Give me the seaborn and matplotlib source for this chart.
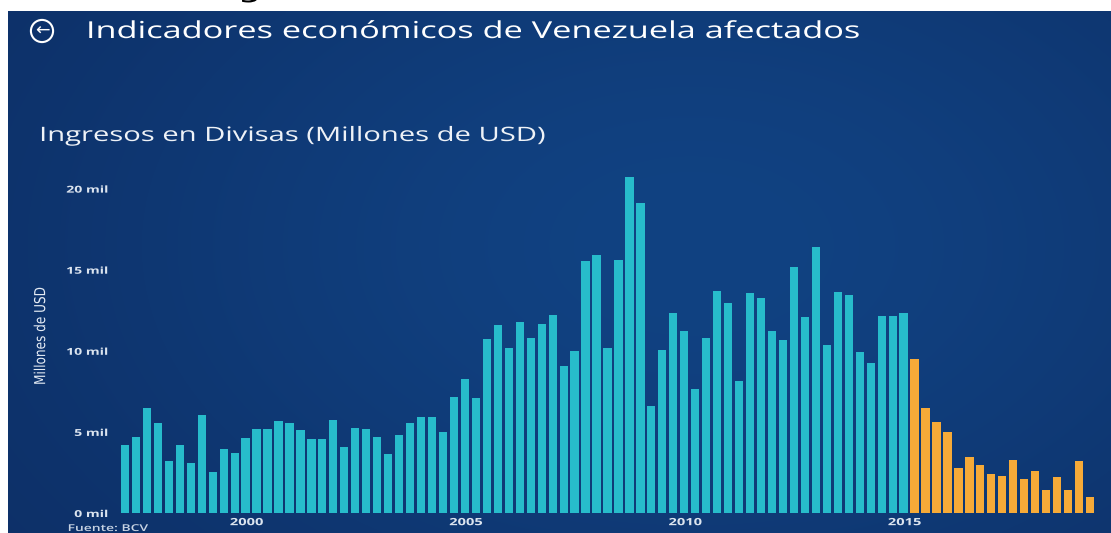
import numpy as np
import pandas as pd
import matplotlib
matplotlib.use("Agg")
import matplotlib.pyplot as plt
import seaborn as sns
from matplotlib.patheffects import AbstractPathEffect
from matplotlib.transforms import Affine2D

# Ingresos trimestrales en divisas (millones de USD), 1997T1 - 2019T1
ingresos_hasta_2014 = [
    4200, 4670, 6450, 5550, 3200, 4200, 3100, 6050, 2500, 3950,
    3700, 4600, 5200, 5200, 5700, 5550, 5100, 4550, 4550, 5750,
    4050, 5250, 5200, 4700, 3650, 4800, 5550, 5900, 5900, 4980,
    7170, 8280, 7090, 10720, 11600, 10200, 11800, 10800, 11680, 12230,
    9080, 10000, 15530, 15880, 10160, 15600, 20740, 19120, 6620, 10040,
    12320, 11230, 7660, 10800, 13670, 12970, 8110, 13550, 13280, 11250,
    10660, 15160, 12090, 16390, 10370, 13630, 13420, 9900, 9240, 12150,
    12150, 12320,
]
ingresos_desde_2015 = [
    9470, 6450, 5590, 5020, 2750, 3440, 2990, 2420, 2300, 3240,
    2110, 2560, 1430, 2210, 1430, 3180, 980,
]
primer_anio = 1997
anios_etiqueta = [2000, 2005, 2010, 2015]
marcas_y = [0, 5000, 10000, 15000, 20000]

valores = ingresos_hasta_2014 + ingresos_desde_2015
trimestres = [f"{primer_anio + i // 4}T{i % 4 + 1}" for i in range(len(valores))]
tramo = ["hasta 2014"] * len(ingresos_hasta_2014) + ["desde 2015"] * len(ingresos_desde_2015)
df = pd.DataFrame({"trimestre": trimestres, "ingresos": valores, "tramo": tramo})


class Ensanche(AbstractPathEffect):
    """Dibuja el texto ensanchado en horizontal alrededor de un punto de anclaje."""

    def __init__(self, factor=1.47, ancla="left"):
        super().__init__()
        self.factor = factor
        self.ancla = ancla

    def draw_path(self, renderer, gc, tpath, affine, rgbFace=None):
        ext = tpath.get_extents(affine)
        x0 = {"left": ext.x0, "right": ext.x1, "center": 0.5 * (ext.x0 + ext.x1)}[self.ancla]
        nueva = affine + Affine2D().translate(-x0, 0).scale(self.factor, 1).translate(x0, 0)
        renderer.draw_path(gc, tpath, nueva, rgbFace)


sns.set_theme(style="white")
plt.rcParams["font.family"] = ["Open Sans", "DejaVu Sans"]

W, H = 1111, 533
fig = plt.figure(figsize=(W / 100, H / 100), dpi=100, facecolor="white")

# Fondo azul con un brillo suave hacia el centro-derecha
bg = fig.add_axes([8 / W, 0, 1 - 8 / W, (H - 11) / H])
gx, gy = np.meshgrid(np.linspace(0, 1, 400), np.linspace(0, 1, 200))
glow = np.exp(-(((gx - 0.62) / 0.6) ** 2 + ((gy - 0.45) / 0.8) ** 2))
dark = np.array([12, 44, 98]) / 255
light = np.array([17, 66, 130]) / 255
img = dark[None, None, :] + glow[..., None] * (light - dark)[None, None, :]
bg.imshow(img, aspect="auto", extent=[0, 1, 0, 1], interpolation="bilinear")
bg.set_axis_off()

# Área del gráfico
left, right = 118.4, 1096.6
bottom, top = 513, 172.4
ax = fig.add_axes([left / W, (H - bottom) / H, (right - left) / W, (bottom - top) / H])
ax.set_facecolor("none")

sns.barplot(
    data=df, x="trimestre", y="ingresos", hue="tramo",
    palette={"hasta 2014": "#27bccb", "desde 2015": "#f6aa38"},
    dodge=False, width=0.75, saturation=1, legend=False, ax=ax,
    edgecolor="none", linewidth=0,
)

ax.set_xlim(-0.6, len(valores) - 0.4)
ax.set_ylim(0, 21000)
for s in ax.spines.values():
    s.set_visible(False)

pos_anios = [trimestres.index(f"{a}T1") - 0.9 for a in anios_etiqueta]
ax.set_xticks(pos_anios)
ax.set_xticklabels([str(a) for a in anios_etiqueta])
ax.set_yticks(marcas_y)
ax.set_yticklabels([f"{v // 1000} mil" for v in marcas_y])
ax.tick_params(axis="x", length=0, pad=3, labelsize=7.2, labelcolor="#dbe4ef")
ax.tick_params(axis="y", length=0, pad=7.5, labelsize=6.9, labelcolor="#dbe4ef")
for t in ax.get_xticklabels():
    t.set_fontweight("bold")
    t.set_path_effects([Ensanche(ancla="center")])
for t in ax.get_yticklabels():
    t.set_fontweight("bold")
    t.set_path_effects([Ensanche(ancla="right")])

ax.set_xlabel("")
ax.set_ylabel("Millones de USD", color="#e4ebf4", fontsize=8.7, family=["DejaVu Sans"],
              path_effects=[Ensanche(factor=1.25, ancla="center")])
ax.yaxis.set_label_coords((47 - left) / (right - left), 0.52)

# Títulos
fig.text(42 / W, 1 - 31 / H, "\u2190", color="white", fontsize=12.5,
         ha="center", va="center", family=["DejaVu Sans"],
         bbox=dict(boxstyle="circle,pad=0.12", fc="none", ec="white", lw=1.5))
fig.text(87 / W, 1 - 38 / H, "Indicadores económicos de Venezuela afectados",
         color="white", fontsize=16.8, ha="left", va="baseline",
         path_effects=[Ensanche()])
fig.text(40 / W, 1 - 141 / H, "Ingresos en Divisas (Millones de USD)",
         color="#eef2f7", fontsize=14.3, ha="left", va="baseline",
         path_effects=[Ensanche()])

# Fuente
fig.text(68 / W, 1 - 531 / H, "Fuente: BCV", color="#c8d4e4", fontsize=6.8,
         ha="left", va="baseline", fontweight="semibold",
         path_effects=[Ensanche()])

# Texto de la página superior, recortado por el borde
fig.text(238 / W, 1 + 3 / H, "g", color="black", fontsize=19, ha="left",
         va="baseline", family=["DejaVu Sans"], path_effects=[Ensanche()])

fig.savefig("out.png", dpi=100, facecolor="white")
